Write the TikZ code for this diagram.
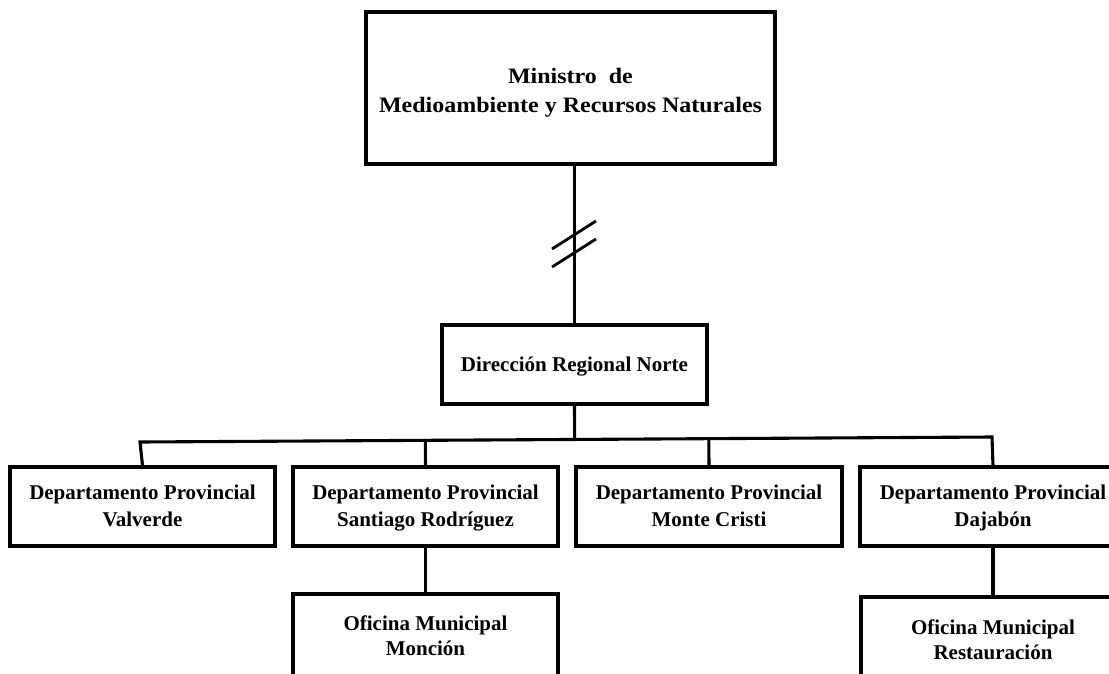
\documentclass[tikz,border=0pt]{standalone}
\usepackage{fontspec}
\setmainfont{Liberation Serif}
\newfontfamily\topfont[FakeStretch=1.09]{Liberation Serif}
\usetikzlibrary{calc}
\begin{document}
\begin{tikzpicture}[x=1pt,y=-1pt,
  box/.style={draw, line width=3.1pt, inner sep=0pt, align=center,
    font=\bfseries\fontsize{21}{26.5}\selectfont, minimum width=265pt, minimum height=79pt,
    text height=44pt, text depth=5pt},
  onebox/.style={box, text height=16pt, text depth=3pt},
  ofbox/.style={box, font=\bfseries\fontsize{21}{25}\selectfont, text height=43pt, text depth=5pt},
  topbox/.style={box, font=\topfont\bfseries\fontsize{22}{29}\selectfont, minimum width=409pt, minimum height=152pt,
    text height=48pt, text depth=0pt},
  conn/.style={line width=3.1pt}]
\useasboundingbox (0,0) rectangle (1109,673);
\clip (0,0) rectangle (1109,673);
\node[topbox] (top) at (570.5,88) {Ministro\ \ de\\Medioambiente y Recursos Naturales};
\node[onebox] (dir) at (574.5,364.5) {Dirección Regional Norte};
\node[box] (dv) at (142.5,506.5) {Departamento Provincial\\Valverde};
\node[box] (ds) at (425.5,506.5) {Departamento Provincial\\Santiago Rodríguez};
\node[box, minimum width=266pt] (dm) at (709,506.5) {Departamento Provincial\\Monte Cristi};
\node[box, minimum width=266pt] (dd) at (993,506.5) {Departamento Provincial\\Dajabón};
\node[ofbox, minimum height=84pt] (om) at (425.5,636) {Oficina Municipal\\Monción};
\node[ofbox, minimum width=264pt, minimum height=86pt] (or) at (993,640) {Oficina Municipal\\Restauración};
% connectors
\draw[conn] (dir.north |- top.south) -- (dir.north);
\coordinate (brk1) at (574,235);
\coordinate (brk2) at (574,253);
\draw[conn, line width=2.8pt] ([shift={(-22,14)}]brk1) -- ([shift={(22,-14)}]brk1);
\draw[conn, line width=2.8pt] ([shift={(-22,14)}]brk2) -- ([shift={(22,-14)}]brk2);
\coordinate (busL) at (140,442);
\coordinate (busR) at (992,437);
\draw[conn] (dv.north) -- (busL) -- (busR) -- (dd.north);
\draw[conn] (dir.south) -- ($(busL)!(dir.south)!(busR)$);
\draw[conn] (ds.north) -- ($(busL)!(ds.north)!(busR)$);
\draw[conn] (dm.north) -- ($(busL)!(dm.north)!(busR)$);
\draw[conn] (ds.south) -- (om.north);
\draw[conn] (dd.south) -- (or.north);
\end{tikzpicture}
\end{document}
